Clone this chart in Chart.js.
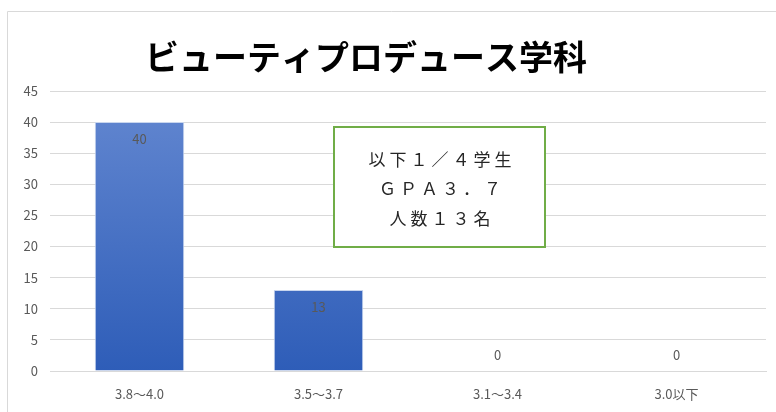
<!DOCTYPE html>
<html><head><meta charset="utf-8">
<script src="https://cdn.jsdelivr.net/npm/chart.js@4/dist/chart.umd.min.js"></script>
<style>html,body{margin:0;padding:0;background:#fff}#w{width:776px;height:412px}</style>
</head><body><div id="w"><canvas id="c" width="776" height="412"></canvas></div>
<script>
const categories = ['3.8～4.0', '3.5～3.7', '3.1～3.4', '3.0以下'];
const counts = [40, 13, 0, 0];
const yTicks = [0, 5, 10, 15, 20, 25, 30, 35, 40, 45];
const titleText = 'ビューティプロデュース学科';
const noteLines = ['以下１／４学生', 'ＧＰＡ３．７', '人数１３名'];

const FONT = '"Noto Sans CJK JP", "Noto Sans", sans-serif';
const txt = '#595959';

const decor = {
  id: 'decor',
  beforeDraw(chart) {
    const c = chart.ctx;
    c.save();
    c.strokeStyle = '#D9D9D9';
    c.lineWidth = 1;
    c.beginPath();
    c.moveTo(7.5, 412); c.lineTo(7.5, 11.5); c.lineTo(776, 11.5);
    c.stroke();
    c.restore();
  },
  afterDraw(chart) {
    const c = chart.ctx;
    c.save();
    // title
    c.fillStyle = '#000';
    c.font = 'bold 34px ' + FONT;
    c.textAlign = 'center';
    c.textBaseline = 'middle';
    c.fillText(titleText, 366, 57);
    // data labels
    const meta = chart.getDatasetMeta(0);
    c.font = '13px ' + FONT;
    c.fillStyle = txt;
    meta.data.forEach((bar, i) => {
      const v = counts[i];
      const y = v > 0 ? bar.y + 17 : bar.base - 16;
      c.fillText(String(v), bar.x, y);
    });
    // note box
    c.fillStyle = '#fff';
    c.fillRect(334, 127, 211, 120);
    c.strokeStyle = '#70AD47';
    c.lineWidth = 2;
    c.strokeRect(334, 127, 211, 120);
    c.fillStyle = '#262626';
    c.font = '17px ' + FONT;
    c.letterSpacing = '4px';
    const ys = [160, 189, 219];
    noteLines.forEach((t, i) => c.fillText(t, 442, ys[i]));
    c.restore();
  }
};

new Chart(document.getElementById('c'), {
  type: 'bar',
  data: {
    labels: categories,
    datasets: [{
      data: counts,
      backgroundColor(ctx) {
        const ch = ctx.chart; const a = ch.chartArea;
        if (!a) return '#4472C4';
        const g = ch.ctx.createLinearGradient(0, a.top, 0, a.bottom);
        g.addColorStop(0, '#6488D1');
        g.addColorStop(1, '#2E5DB8');
        return g;
      },
      borderColor: '#C9D6EE',
      borderWidth: 1,
      barPercentage: 0.5,
      categoryPercentage: 1
    }]
  },
  options: {
    responsive: false,
    animation: false,
    devicePixelRatio: 1,
    layout: { padding: { top: 91, right: 10, left: 0, bottom: 0 } },
    plugins: { legend: { display: false }, tooltip: { enabled: false }, title: { display: false } },
    scales: {
      x: {
        grid: { display: false, drawTicks: false },
        border: { color: '#D9D9D9' },
        ticks: { color: txt, font: { size: 13, family: FONT }, padding: 15 },
        afterFit(s) { s.height = 41; }
      },
      y: {
        min: 0, max: 45,
        afterBuildTicks(s) { s.ticks = yTicks.map(v => ({ value: v })); },
        grid: { color: '#D9D9D9', drawTicks: false },
        border: { display: false },
        ticks: { color: txt, font: { size: 13, family: FONT }, padding: 12 },
        afterFit(s) { s.width = 50; }
      }
    }
  },
  plugins: [decor]
});
</script></body></html>
